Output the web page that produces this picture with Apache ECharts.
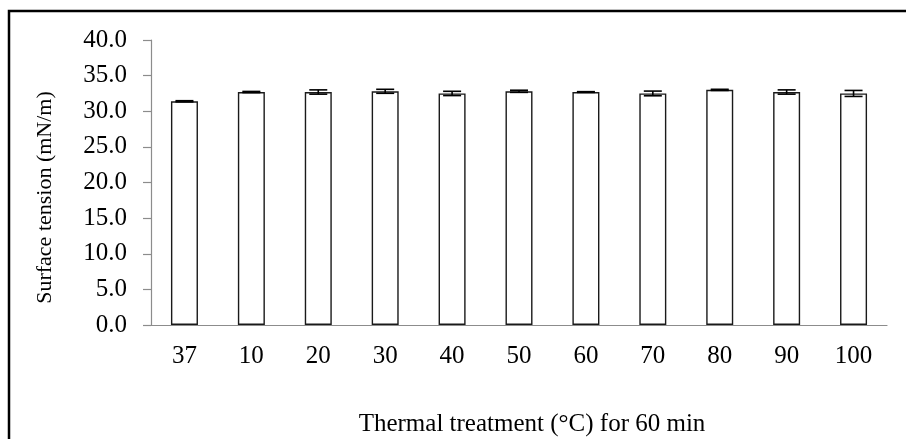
<!DOCTYPE html>
<html>
<head>
<meta charset="utf-8">
<script src="https://cdn.jsdelivr.net/npm/echarts@6/dist/echarts.min.js"></script>
<style>
html,body{margin:0;padding:0;background:#fff;}
#chart{width:906px;height:439px;}
</style>
</head>
<body>
<div id="chart"></div>
<script>
const categories = ['37', '10', '20', '30', '40', '50', '60', '70', '80', '90', '100'];
const values = [31.4, 32.7, 32.7, 32.8, 32.5, 32.8, 32.7, 32.5, 33.0, 32.7, 32.5];
const errors = [0.08, 0.08, 0.3, 0.28, 0.3, 0.15, 0.05, 0.33, 0.08, 0.3, 0.42];
const yTicks = { min: 0, max: 40, interval: 5 };
const xName = 'Thermal treatment (°C) for 60 min';
const yName = 'Surface tension (mN/m)';

const FONT = "'Liberation Serif', 'Times New Roman', serif";
const chart = echarts.init(document.getElementById('chart'), null, { renderer: 'canvas' });

const errData = categories.map((c, i) => [i, values[i] - errors[i], values[i] + errors[i]]);

chart.setOption({
  animation: false,
  backgroundColor: '#fff',
  graphic: [{
    type: 'rect',
    shape: { x: 9, y: 11, width: 1200, height: 1200 },
    style: { fill: 'none', stroke: '#000', lineWidth: 2.5 },
    silent: true
  }],
  grid: { left: 151, right: 19, top: 40, bottom: 114, containLabel: false, outerBoundsMode: 'none' },
  xAxis: [{
    type: 'category',
    data: categories,
    position: 'bottom',
    z: 4,
    name: xName,
    nameLocation: 'middle',
    nameGap: 87,
    nameTextStyle: { fontFamily: FONT, fontSize: 25, color: '#000', padding: [0, 0, 0, 26] },
    axisLine: { lineStyle: { color: '#8c8c8c', width: 1.2 } },
    axisTick: { alignWithLabel: true, length: 7, lineStyle: { color: '#8c8c8c', width: 1.2 } },
    axisLabel: { fontFamily: FONT, fontSize: 25, color: '#000', margin: 19 },
    splitLine: { show: false }
  }, {
    type: 'category',
    data: categories,
    position: 'bottom',
    z: 4,
    axisLine: { show: false },
    axisTick: { alignWithLabel: true, inside: true, length: 5, lineStyle: { color: '#8c8c8c', width: 1.2 } },
    axisLabel: { show: false },
    splitLine: { show: false }
  }],
  yAxis: {
    type: 'value',
    min: yTicks.min,
    max: yTicks.max,
    interval: yTicks.interval,
    name: yName,
    nameLocation: 'middle',
    nameGap: 95,
    nameRotate: 90,
    nameTextStyle: { fontFamily: FONT, fontSize: 22, color: '#000', padding: [0, 30, 0, 0] },
    axisLine: { show: true, lineStyle: { color: '#8c8c8c', width: 1.2 } },
    axisTick: { show: true, length: 8, lineStyle: { color: '#8c8c8c', width: 1.2 } },
    axisLabel: { fontFamily: FONT, fontSize: 25, color: '#000', margin: 24,
      formatter: v => v.toFixed(1) },
    splitLine: { show: false }
  },
  series: [{
    type: 'bar',
    data: values,
    barWidth: 27,
    itemStyle: { color: '#fff', borderColor: '#1a1a1a', borderWidth: 1.4 },
    z: 2
  }, {
    type: 'custom',
    data: errData,
    z: 5,
    renderItem: function (params, api) {
      const x = api.coord([api.value(0), 0])[0];
      const lo = api.coord([api.value(0), api.value(1)])[1];
      const hi = api.coord([api.value(0), api.value(2)])[1];
      const hw = 9;
      const style = { stroke: '#000', lineWidth: 1.6 };
      return {
        type: 'group',
        children: [
          { type: 'line', shape: { x1: x, y1: lo, x2: x, y2: hi }, style },
          { type: 'line', shape: { x1: x - hw, y1: lo, x2: x + hw, y2: lo }, style },
          { type: 'line', shape: { x1: x - hw, y1: hi, x2: x + hw, y2: hi }, style }
        ]
      };
    }
  }]
});
</script>
</body>
</html>
